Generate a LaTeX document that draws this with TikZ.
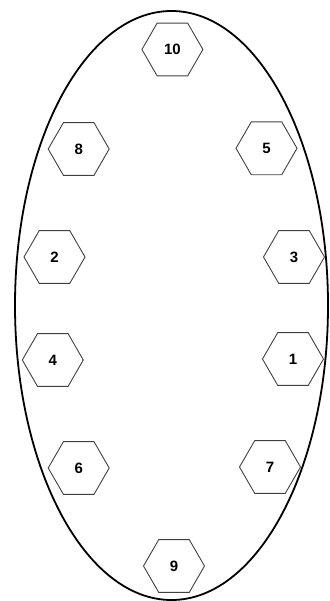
\documentclass[tikz,border=0pt]{standalone}
\usepackage{fontspec}
\setmainfont{Liberation Sans}
\usetikzlibrary{shapes.geometric}
\begin{document}
\begin{tikzpicture}[x=1pt,y=-1pt,
  hexbox/.style={regular polygon, regular polygon sides=6, draw=black!75, line width=0.9pt,
    minimum size=61pt, inner sep=0pt, font=\fontsize{15}{15}\selectfont\bfseries},
  oval/.style={draw=black, line width=1.8pt}]
\useasboundingbox (0,0) rectangle (329,601);
\draw[oval] (171.5,305.5) ellipse [x radius=156.5, y radius=294.5];
\node[hexbox] (n10) at (172.4,49.5) {10};
\node[hexbox] (n8) at (78.7,149) {8};
\node[hexbox] (n5) at (266.5,148.3) {5};
\node[hexbox] (n2) at (54.5,257) {2};
\node[hexbox] (n3) at (294,257) {3};
\node[hexbox] (n4) at (52.8,360) {4};
\node[hexbox] (n1) at (293,359) {1};
\node[hexbox] (n6) at (78.7,468) {6};
\node[hexbox] (n7) at (270,467) {7};
\node[hexbox] (n9) at (174,566) {9};
\end{tikzpicture}
\end{document}
